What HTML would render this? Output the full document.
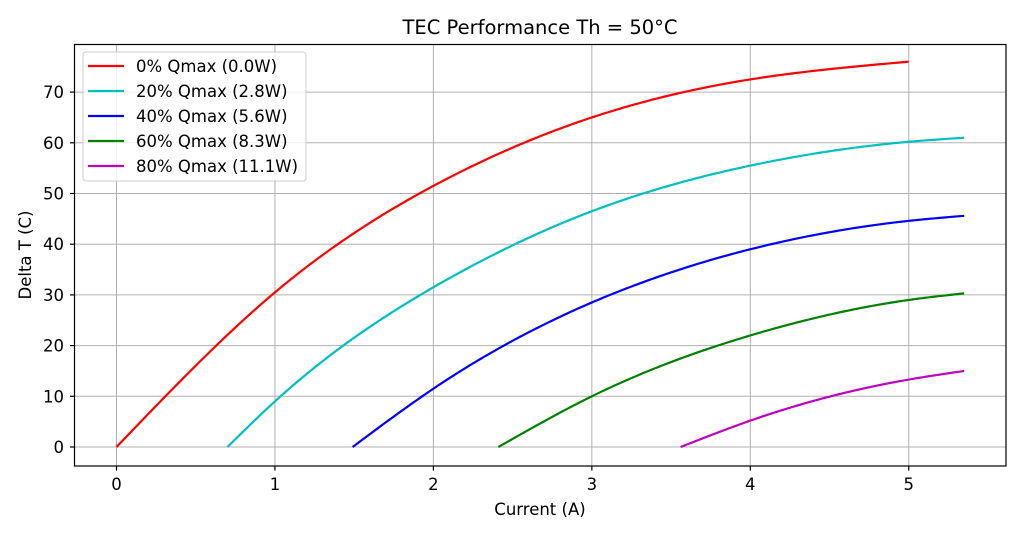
<!DOCTYPE html>
<html><head><meta charset="utf-8"><style>
body{margin:0;background:#fff;}
svg text{font-family:"DejaVu Sans","Liberation Sans",sans-serif;fill:#000;}
</style></head><body>
<svg id="s" width="1024" height="536" viewBox="0 0 1024 536" xmlns="http://www.w3.org/2000/svg">
<rect width="1024" height="536" fill="#fff"/>
<g id="grid" stroke="#b0b0b0" stroke-width="1"></g>
<g id="curves" fill="none" stroke-width="2.2"></g>
<rect x="74.5" y="44.5" width="931.5" height="421.5" fill="none" stroke="#000" stroke-width="1.2"/>
<g id="ticks" stroke="#000" stroke-width="1.2"></g>
<g id="labels" font-size="16.5"></g>
<text x="540" y="34" font-size="19.5" text-anchor="middle">TEC Performance Th = 50°C</text>
<text x="540" y="515" font-size="16.5" text-anchor="middle">Current (A)</text>
<text transform="translate(31,255) rotate(-90)" font-size="16.5" text-anchor="middle">Delta T (C)</text>
<rect x="83" y="52" width="223" height="129" rx="3" fill="#fff" fill-opacity="0.8" stroke="#ccc"/>
<g font-size="16.5">
<line x1="88" y1="66" x2="124" y2="66" stroke="#ff0000" stroke-width="2.2"/><text x="136" y="72">0% Qmax (0.0W)</text>
<line x1="88" y1="91" x2="124" y2="91" stroke="#00bfbf" stroke-width="2.2"/><text x="136" y="97">20% Qmax (2.8W)</text>
<line x1="88" y1="116" x2="124" y2="116" stroke="#0000ff" stroke-width="2.2"/><text x="136" y="122">40% Qmax (5.6W)</text>
<line x1="88" y1="141" x2="124" y2="141" stroke="#008000" stroke-width="2.2"/><text x="136" y="147">60% Qmax (8.3W)</text>
<line x1="88" y1="166" x2="124" y2="166" stroke="#bf00bf" stroke-width="2.2"/><text x="136" y="172">80% Qmax (11.1W)</text>
</g>
</svg>
<script>
const X=v=>116.5+v*158.45, Y=v=>447-v*5.07;
const ns="http://www.w3.org/2000/svg";
function el(p,t,a,txt){const e=document.createElementNS(ns,t);for(const k in a)e.setAttribute(k,a[k]);if(txt!==undefined)e.textContent=txt;document.getElementById(p).appendChild(e);}
for(let i=0;i<=5;i++){const x=X(i);el('grid','line',{x1:x,y1:44.5,x2:x,y2:466});el('ticks','line',{x1:x,y1:466,x2:x,y2:470.5});el('labels','text',{x:x,y:490,'text-anchor':'middle'},i);}
for(let j=0;j<=70;j+=10){const y=Y(j);el('grid','line',{x1:74.5,y1:y,x2:1006,y2:y});el('ticks','line',{x1:70,y1:y,x2:74.5,y2:y});el('labels','text',{x:64,y:y+6,'text-anchor':'end'},j);}
const data=[
['#ff0000',[[0,0],[1,30.5],[2,51.5],[3,65],[4,72.5],[5,76]]],
['#00bfbf',[[0.7,0],[1,9],[2,31.5],[3,46.5],[4,55.5],[5,60.2],[5.35,61]]],
['#0000ff',[[1.49,0],[2,11.5],[3,28.5],[4,39],[5,44.6],[5.35,45.6]]],
['#008000',[[2.41,0],[3,10],[4,22],[5,29],[5.35,30.3]]],
['#bf00bf',[[3.56,0],[4,5.2],[5,13.3],[5.35,15]]]];
function spline(p){const n=p.length,x=p.map(q=>q[0]),y=p.map(q=>q[1]);
const h=[],al=[0],l=[1],mu=[0],z=[0],c=new Array(n).fill(0),b=[],d=[];
for(let i=0;i<n-1;i++)h.push(x[i+1]-x[i]);
for(let i=1;i<n-1;i++)al[i]=3/h[i]*(y[i+1]-y[i])-3/h[i-1]*(y[i]-y[i-1]);
for(let i=1;i<n-1;i++){l[i]=2*(x[i+1]-x[i-1])-h[i-1]*mu[i-1];mu[i]=h[i]/l[i];z[i]=(al[i]-h[i-1]*z[i-1])/l[i];}
for(let j=n-2;j>=0;j--){c[j]=z[j]-mu[j]*c[j+1];b[j]=(y[j+1]-y[j])/h[j]-h[j]*(c[j+1]+2*c[j])/3;d[j]=(c[j+1]-c[j])/(3*h[j]);}
const pts=[];for(let k=0;k<=200;k++){const t=x[0]+(x[n-1]-x[0])*k/200;let i=0;while(i<n-2&&t>x[i+1])i++;const dx=t-x[i];
pts.push([X(t),Y(y[i]+b[i]*dx+c[i]*dx*dx+d[i]*dx*dx*dx)]);}return pts;}
for(const [c,p] of data){const P=spline(p);el('curves','path',{d:'M'+P.map(q=>q[0].toFixed(2)+','+q[1].toFixed(2)).join(' L'),stroke:c});}
</script>
</body></html>
